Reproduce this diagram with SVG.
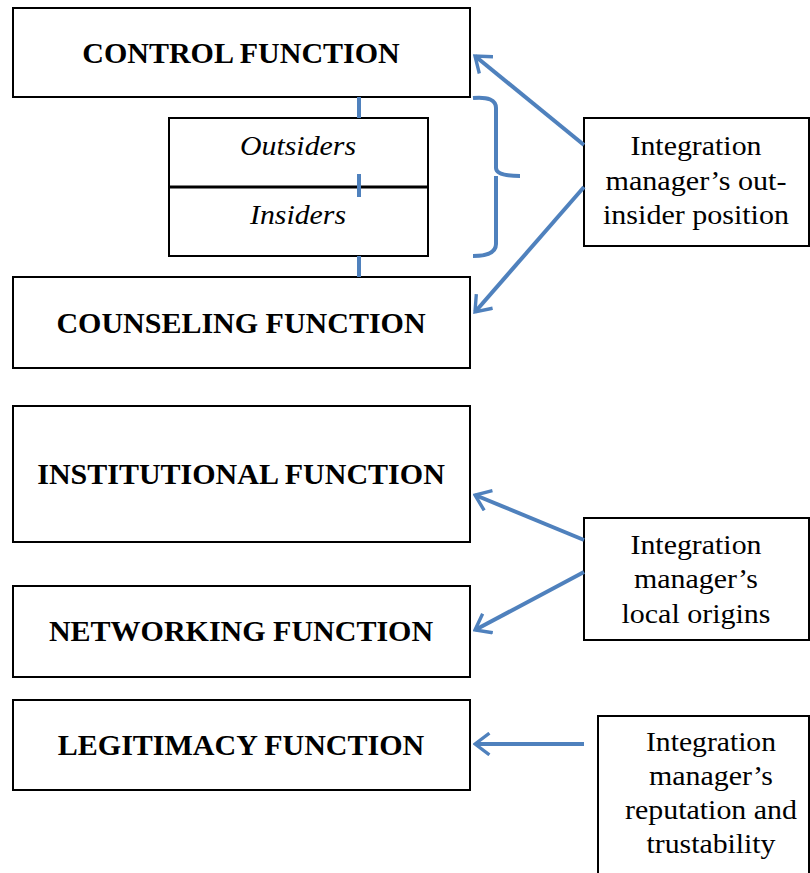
<svg xmlns="http://www.w3.org/2000/svg" width="810" height="873" viewBox="0 0 810 873">
<style>
.box{fill:#fff;stroke:#000;stroke-width:2}
.t{font-family:"Liberation Serif","Times New Roman",serif;font-weight:bold;font-size:30px;text-anchor:middle;fill:#000}
.i{font-family:"Liberation Serif","Times New Roman",serif;font-style:italic;font-size:28px;text-anchor:middle;fill:#000}
.r{font-family:"Liberation Serif","Times New Roman",serif;font-size:28px;text-anchor:middle;fill:#000}
.c{stroke:#4f81bd;stroke-width:4;fill:none;stroke-linecap:butt}
</style>
<defs>
<marker id="ah" viewBox="0 0 10 10" refX="9" refY="5" markerWidth="6" markerHeight="6" orient="auto" markerUnits="strokeWidth">
<path d="M3,0.5 L9,5 L3,9.5" fill="none" stroke="#4f81bd" stroke-width="1.4" stroke-linejoin="miter"/>
</marker>
</defs>
<rect width="810" height="873" fill="#fff"/>
<g id="control"><rect class="box" x="13" y="8" width="457" height="89"/><text class="t" x="241" y="63">CONTROL FUNCTION</text></g>
<g id="outin"><rect class="box" x="169" y="118" width="259" height="138"/><line x1="169" y1="187" x2="428" y2="187" stroke="#000" stroke-width="3"/><text class="i" x="298" y="155" textLength="116" lengthAdjust="spacingAndGlyphs">Outsiders</text><text class="i" x="298" y="224" textLength="96" lengthAdjust="spacingAndGlyphs">Insiders</text></g>
<g id="counseling"><rect class="box" x="13" y="277" width="457" height="91"/><text class="t" x="241" y="333">COUNSELING FUNCTION</text></g>
<g id="institutional"><rect class="box" x="13" y="406" width="457" height="136"/><text class="t" x="241" y="484">INSTITUTIONAL FUNCTION</text></g>
<g id="networking"><rect class="box" x="13" y="586" width="457" height="91"/><text class="t" x="241" y="641">NETWORKING FUNCTION</text></g>
<g id="legitimacy"><rect class="box" x="13" y="700" width="457" height="90"/><text class="t" x="241" y="755">LEGITIMACY FUNCTION</text></g>
<g id="position"><rect class="box" x="584" y="118" width="225" height="128"/><text class="r" x="696" y="155" textLength="131" lengthAdjust="spacingAndGlyphs">Integration</text><text class="r" x="696" y="190" textLength="181" lengthAdjust="spacingAndGlyphs">manager’s out-</text><text class="r" x="696" y="224" textLength="186" lengthAdjust="spacingAndGlyphs">insider position</text></g>
<g id="origins"><rect class="box" x="584" y="518" width="225" height="122"/><text class="r" x="696" y="554" textLength="131" lengthAdjust="spacingAndGlyphs">Integration</text><text class="r" x="696" y="588" textLength="124" lengthAdjust="spacingAndGlyphs">manager’s</text><text class="r" x="696" y="623" textLength="149" lengthAdjust="spacingAndGlyphs">local origins</text></g>
<g id="reputation"><path class="box" d="M598,875 V716 H809 V875"/><text class="r" x="711" y="751" textLength="130" lengthAdjust="spacingAndGlyphs">Integration</text><text class="r" x="711" y="785" textLength="124" lengthAdjust="spacingAndGlyphs">manager’s</text><text class="r" x="711" y="819" textLength="172" lengthAdjust="spacingAndGlyphs">reputation and</text><text class="r" x="711" y="853" textLength="129" lengthAdjust="spacingAndGlyphs">trustability</text></g>
<g id="connectors">
<line class="c" x1="359" y1="97" x2="359" y2="118"/>
<line class="c" x1="359" y1="174" x2="359" y2="197"/>
<line class="c" x1="359" y1="256" x2="359" y2="277"/>
<path class="c" d="M473,98 Q496,96 496,108 V168 Q496,176 520,176 M496,176 Q496,182 496,190 V244 Q496,256 473,256"/>
<line class="c" x1="584" y1="145" x2="475" y2="56" marker-end="url(#ah)"/>
<line class="c" x1="584" y1="187" x2="475" y2="312" marker-end="url(#ah)"/>
<line class="c" x1="584" y1="540" x2="475" y2="495" marker-end="url(#ah)"/>
<line class="c" x1="584" y1="572" x2="475" y2="630" marker-end="url(#ah)"/>
<line class="c" x1="584" y1="744" x2="475" y2="744" marker-end="url(#ah)"/>
</g>
</svg>
